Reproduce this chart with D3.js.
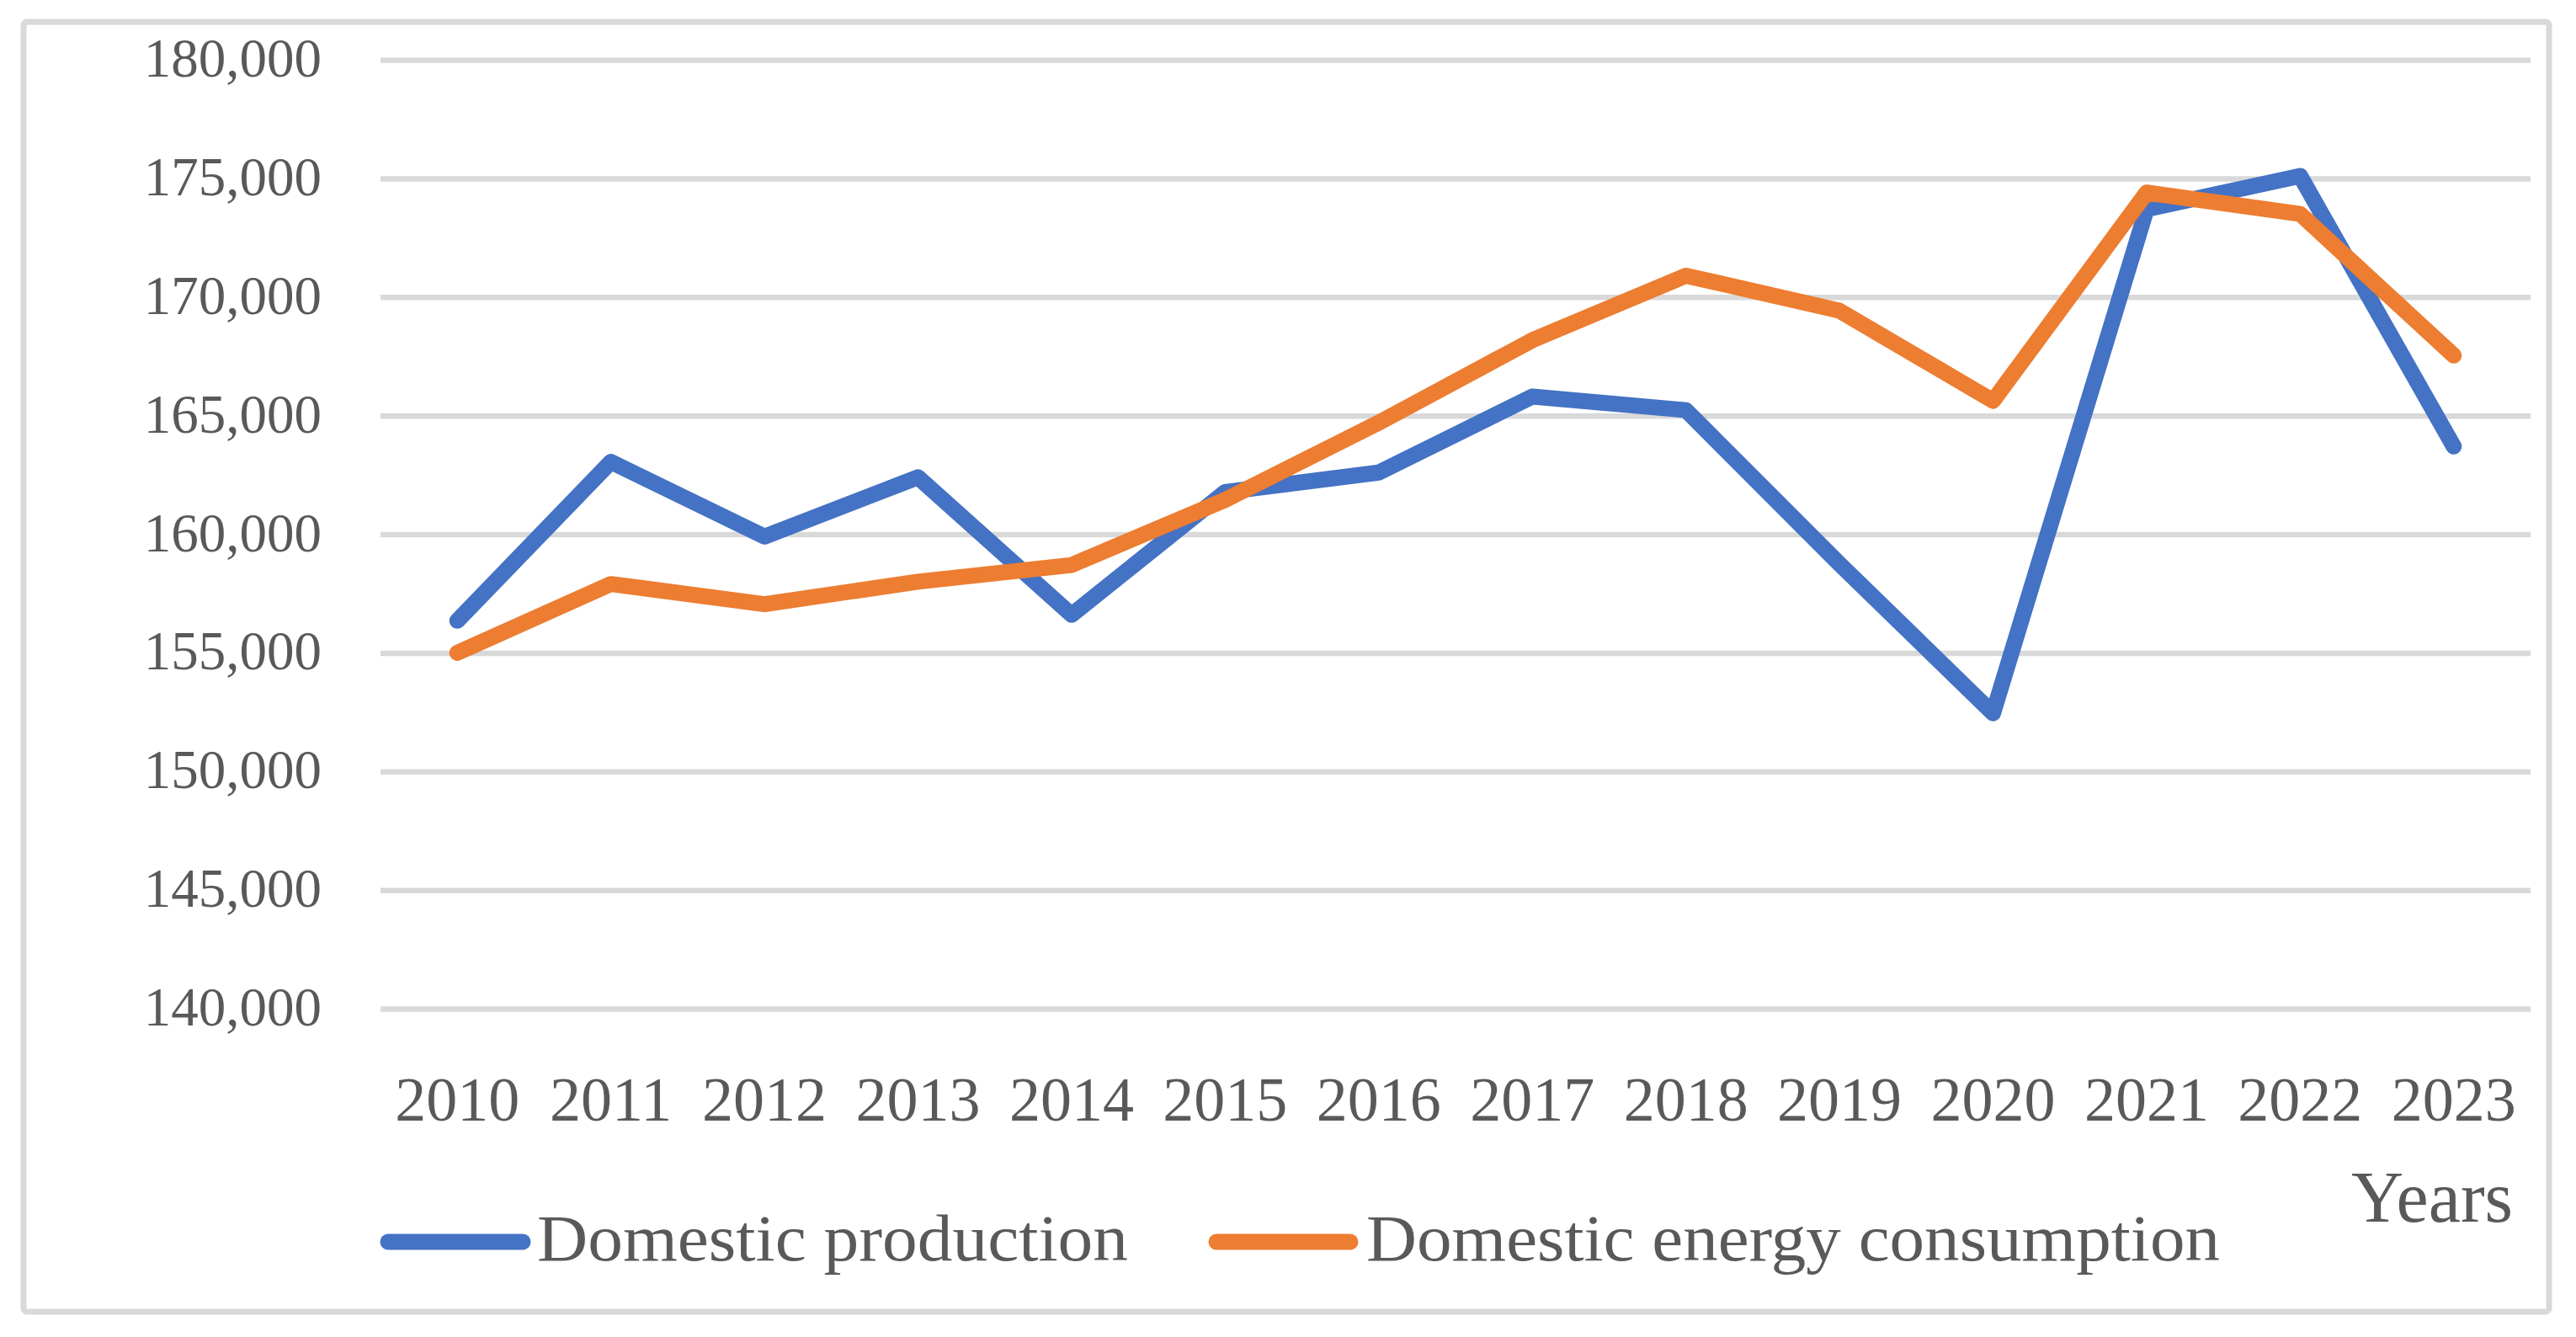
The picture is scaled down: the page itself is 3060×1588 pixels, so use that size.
<!DOCTYPE html>
<html>
<head>
<meta charset="utf-8">
<script src="https://cdn.jsdelivr.net/npm/d3@7"></script>
<style>
  html, body { margin: 0; padding: 0; background: #ffffff; }
  svg { display: block; }
</style>
</head>
<body>
<svg id="chart" width="3060" height="1588"></svg>
<script>
const years = ["2010","2011","2012","2013","2014","2015","2016","2017","2018","2019","2020","2021","2022","2023"];
const production = [156350, 163050, 159900, 162400, 156600, 161780, 162600, 165800, 165230, 158750, 152450, 173700, 175100, 163700];
const consumption = [155000, 157900, 157050, 158000, 158700, 161450, 164700, 168180, 170900, 169420, 165620, 174400, 173500, 167530];
const yTicks = [140000, 145000, 150000, 155000, 160000, 165000, 170000, 175000, 180000];
const seriesNames = ["Domestic production", "Domestic energy consumption"];
const seriesColors = ["#4472C4", "#ED7D31"];
const xAxisTitle = "Years";

(function () {
const FONT = "'Liberation Serif', 'Times New Roman', serif";
const TEXT = "#595959";
const GRID = "#D9D9D9";

const svg = d3.select("#chart");
svg.append("rect").attr("x", 0).attr("y", 0).attr("width", 3060).attr("height", 1588).attr("fill", "#fff");

// outer border
svg.append("rect")
  .attr("x", 28).attr("y", 26).attr("width", 3000).attr("height", 1532)
  .attr("rx", 4).attr("fill", "none").attr("stroke", GRID).attr("stroke-width", 7);

const pLeft = 452, pRight = 3006, pTop = 71, pBottom = 1198;

const x = d3.scaleBand().domain(years).range([pLeft, pRight]).padding(0);
const y = d3.scaleLinear().domain([140000, 180000]).range([pBottom, pTop]);

// Y axis with gridlines
const yAxis = d3.axisLeft(y)
  .tickValues(yTicks)
  .tickFormat(d3.format(","))
  .tickSizeInner(-(pRight - pLeft))
  .tickSizeOuter(0)
  .tickPadding(70);

const gy = svg.append("g").attr("transform", `translate(${pLeft},0)`).call(yAxis);
gy.select(".domain").remove();
gy.selectAll(".tick line").attr("stroke", GRID).attr("stroke-width", 6.5);
gy.selectAll(".tick text")
  .attr("fill", TEXT).attr("font-family", FONT).attr("font-size", 65)
  .attr("dy", "0.3em");

// X axis labels
const xAxis = d3.axisBottom(x).tickSize(0).tickPadding(80);
const gx = svg.append("g").attr("transform", `translate(0,${pBottom})`).call(xAxis);
gx.select(".domain").remove();
gx.selectAll(".tick text")
  .attr("fill", TEXT).attr("font-family", FONT).attr("font-size", 74);

// Lines
const cx = d => x(d) + x.bandwidth() / 2;
const seriesData = [production, consumption];
const line = d3.line()
  .x((d, i) => cx(years[i]))
  .y(d => y(d));

svg.append("g").selectAll("path")
  .data(seriesData)
  .join("path")
  .attr("d", d => line(d))
  .attr("fill", "none")
  .attr("stroke", (d, i) => seriesColors[i])
  .attr("stroke-width", 19)
  .attr("stroke-linejoin", "round")
  .attr("stroke-linecap", "round");

// X axis title
svg.append("text")
  .attr("x", 2985).attr("y", 1451)
  .attr("text-anchor", "end")
  .attr("fill", TEXT).attr("font-family", FONT).attr("font-size", 86)
  .text(xAxisTitle);

// Legend
const legendItems = [
  { lx1: 461, lx2: 621, tx: 638, tl: 702 },
  { lx1: 1445, lx2: 1604, tx: 1623, tl: 1014 }
];
const lg = svg.append("g");
lg.selectAll("line")
  .data(legendItems)
  .join("line")
  .attr("x1", d => d.lx1).attr("x2", d => d.lx2)
  .attr("y1", 1475).attr("y2", 1475)
  .attr("stroke", (d, i) => seriesColors[i])
  .attr("stroke-width", 19)
  .attr("stroke-linecap", "round");
lg.selectAll("text")
  .data(legendItems)
  .join("text")
  .attr("x", d => d.tx).attr("y", 1497)
  .attr("textLength", d => d.tl)
  .attr("lengthAdjust", "spacingAndGlyphs")
  .attr("fill", TEXT).attr("font-family", FONT).attr("font-size", 79)
  .text((d, i) => seriesNames[i]);
})();
</script>
</body>
</html>
